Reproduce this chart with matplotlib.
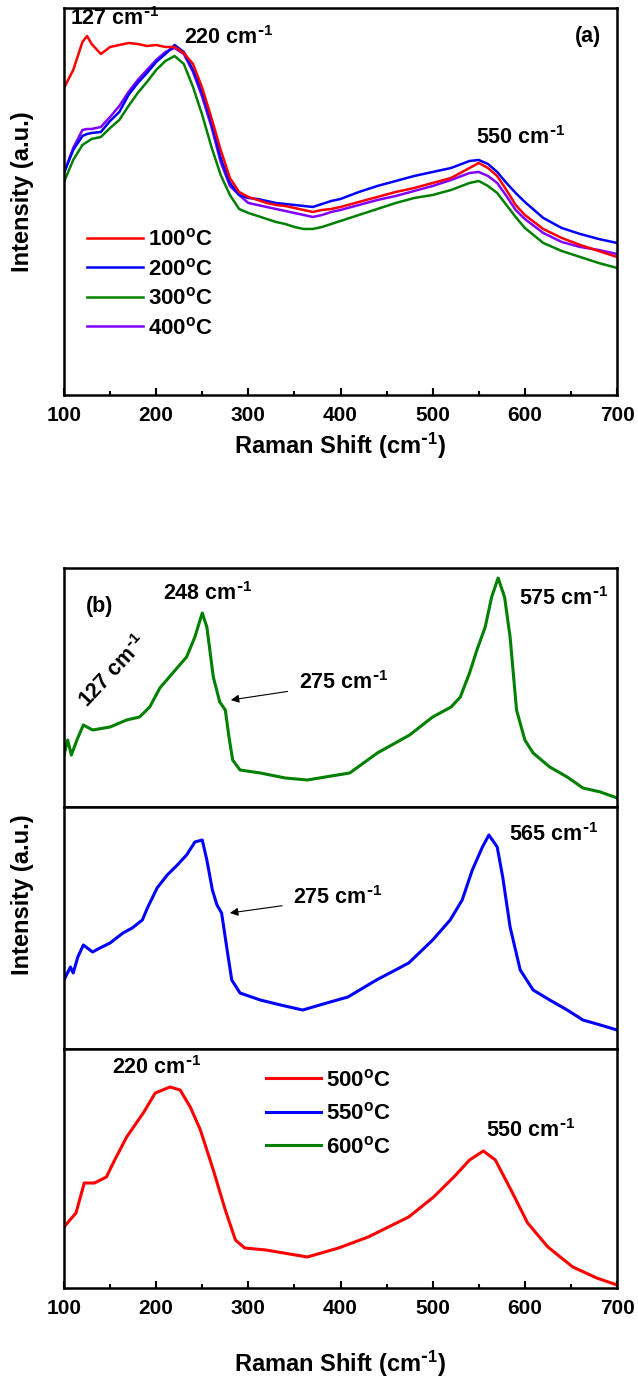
import matplotlib
matplotlib.use("Agg")
import matplotlib.pyplot as plt
from matplotlib.ticker import MultipleLocator

plt.rcParams['font.family'] = ['Liberation Sans', 'DejaVu Sans']
plt.rcParams['font.weight'] = 'bold'
plt.rcParams['axes.labelweight'] = 'bold'
plt.rcParams['mathtext.default'] = 'regular'

# ---- panel (a): 100-400 C ----
shift_a = [100, 110, 120, 125, 130, 140, 150, 160, 170, 180,
           190, 200, 210, 220, 230, 240, 250, 260, 270, 280,
           290, 300, 310, 320, 330, 340, 350, 360, 370, 380,
           390, 400, 420, 440, 460, 480, 500, 520, 540, 550,
           560, 570, 580, 590, 600, 620, 640, 660, 680, 700]
int_100 = [307, 325, 353, 359, 351, 341, 348, 350, 352, 351,
           349, 350, 348, 348, 342, 331, 307, 277, 245, 217,
           203, 198, 195, 192, 190, 189, 187, 185, 183, 185,
           186, 188, 193, 198, 203, 207, 212, 217, 227, 232,
           227, 219, 205, 190, 180, 166, 157, 150, 144, 138]
int_200 = [222, 245, 259, 261, 262, 263, 274, 283, 300, 312,
           322, 333, 341, 350, 343, 325, 302, 272, 237, 212,
           200, 197, 196, 194, 192, 191, 190, 189, 188, 191,
           194, 196, 203, 209, 214, 219, 223, 227, 234, 235,
           231, 223, 212, 202, 193, 177, 167, 161, 156, 152]
int_300 = [213, 235, 250, 253, 256, 258, 267, 275, 289, 302,
           313, 325, 334, 339, 331, 308, 280, 248, 220, 200,
           186, 182, 179, 176, 173, 171, 168, 166, 166, 168,
           171, 174, 180, 186, 192, 197, 200, 205, 212, 214,
           209, 202, 190, 178, 167, 152, 144, 138, 132, 127]
int_400 = [222, 247, 265, 266, 266, 268, 278, 289, 303, 315,
           325, 335, 343, 347, 341, 323, 298, 268, 233, 209,
           200, 192, 190, 188, 186, 184, 182, 180, 178, 180,
           183, 185, 190, 195, 199, 204, 209, 215, 222, 223,
           219, 212, 199, 185, 176, 162, 153, 148, 145, 141]

# ---- panel (b): 500-600 C ----
shift_600 = [100, 104, 108, 114, 121, 131, 150, 168, 182, 193,
             204, 218, 233, 242, 250, 255, 262, 269, 275, 279,
             283, 291, 313, 340, 364, 390, 410, 440, 475, 500,
             520, 530, 540, 548, 557, 564, 571, 578, 584, 591,
             600, 609, 627, 646, 663, 682, 700]
int_600 = [52, 67, 52, 67, 82, 77, 80, 87, 90, 100,
           119, 134, 150, 170, 194, 180, 130, 105, 97, 70,
           47, 37, 34, 29, 27, 31, 34, 54, 72, 90,
           100, 110, 134, 157, 180, 210, 229, 210, 170, 97,
           67, 54, 40, 30, 19, 15, 9]
shift_550 = [100, 107, 110, 115, 121, 131, 139, 150, 164, 174,
             185, 191, 201, 212, 223, 233, 242, 250, 255, 261,
             266, 271, 277, 282, 291, 313, 335, 359, 385, 408,
             439, 474, 500, 519, 532, 543, 554, 561, 570, 576,
             584, 595, 609, 627, 646, 663, 682, 700]
int_550 = [69, 82, 76, 92, 104, 97, 101, 106, 116, 121,
           129, 142, 161, 174, 184, 194, 207, 209, 189, 159,
           144, 136, 99, 69, 56, 49, 44, 39, 46, 52,
           69, 86, 109, 129, 149, 179, 202, 214, 202, 172,
           122, 79, 59, 49, 39, 29, 24, 19]
shift_500 = [100, 113, 122, 133, 146, 155, 168, 186, 199, 215,
             226, 237, 248, 262, 275, 286, 296, 319, 364, 398,
             430, 474, 501, 523, 540, 555, 568, 585, 603, 625,
             652, 678, 700]
int_500 = [61, 75, 105, 105, 111, 128, 151, 175, 195, 201,
           198, 181, 158, 118, 78, 48, 40, 38, 31, 40,
           51, 71, 91, 111, 128, 137, 128, 98, 65, 41,
           21, 10, 3]

RED, BLUE, GREEN, PURPLE = '#ff0000', '#0000ff', '#008000', '#8000ff'
CM = r' cm$^{\text{-}1}$'
xlab = r'Raman Shift (cm$^{\text{-}1}$)'
ANN = 15.5


def style(ax, ticks=True):
    ax.set_xlim(100, 700)
    ax.set_yticks([])
    for s in ax.spines.values():
        s.set_linewidth(1.8)
    ax.xaxis.set_major_locator(MultipleLocator(100))
    ax.xaxis.set_minor_locator(MultipleLocator(50))
    ax.tick_params(axis='x', which='major', direction='in', length=5, width=1.5,
                   labelsize=15, pad=8, top=False)
    ax.tick_params(axis='x', which='minor', direction='in', length=3, width=1.5, top=False)
    if not ticks:
        ax.tick_params(axis='x', which='both', bottom=False, labelbottom=False)


fig = plt.figure(figsize=(6.38, 13.79), dpi=100)

# panel (a)
ax = fig.add_axes([0.1003, 0.7136, 0.8668, 0.2806])
l4, = ax.plot(shift_a, int_400, color=PURPLE, lw=1.8)
l3, = ax.plot(shift_a, int_300, color=GREEN, lw=1.8)
l2, = ax.plot(shift_a, int_200, color=BLUE, lw=1.8)
l1, = ax.plot(shift_a, int_100, color=RED, lw=1.8)
ax.set_ylim(0, 387)
style(ax)
ax.set_xlabel(xlab, fontsize=17, labelpad=4)
ax.legend([l1, l2, l3, l4], [r'100$^{o}$C', r'200$^{o}$C', r'300$^{o}$C', r'400$^{o}$C'],
          loc='center left', bbox_to_anchor=(0.022, 0.287), frameon=False, fontsize=16,
          handlelength=2.5, handletextpad=0.25, labelspacing=0.34, borderpad=0)
ax.text(155, 376, '127' + CM, fontsize=ANN, ha='center', va='center')
ax.text(279, 357, '220' + CM, fontsize=ANN, ha='center', va='center')
ax.text(595, 257, '550' + CM, fontsize=ANN, ha='center', va='center')
ax.text(669, 358, '(a)', fontsize=ANN, ha='center', va='center')
fig.text(0.035, 1 - 192 / 1379, 'Intensity (a.u.)', rotation=90, fontsize=17,
         ha='center', va='center')

# panel (b)
ax1 = fig.add_axes([0.1003, 0.4148, 0.8668, 0.1733])
ax2 = fig.add_axes([0.1003, 0.2393, 0.8668, 0.1755])
ax3 = fig.add_axes([0.1003, 0.0660, 0.8668, 0.1733])

g, = ax1.plot(shift_600, int_600, color=GREEN, lw=2.2)
ax1.set_ylim(0, 239)
style(ax1, ticks=False)
ax1.text(139, 201, '(b)', fontsize=ANN, ha='center', va='center')
ax1.text(256, 213, '248' + CM, fontsize=ANN, ha='center', va='center')
ax1.text(153, 135, '127' + CM, fontsize=ANN, ha='center', va='center', rotation=47)
ax1.text(642, 208, '575' + CM, fontsize=ANN, ha='center', va='center')
ax1.annotate('275' + CM, xy=(281, 107), xytext=(403, 124), fontsize=ANN,
             ha='center', va='center',
             arrowprops=dict(arrowstyle='-|>', color='black', lw=0.8,
                             shrinkA=6, shrinkB=0, mutation_scale=12))

b, = ax2.plot(shift_550, int_550, color=BLUE, lw=2.2)
ax2.set_ylim(0, 242)
style(ax2, ticks=False)
ax2.text(631, 214, '565' + CM, fontsize=ANN, ha='center', va='center')
ax2.annotate('275' + CM, xy=(280, 136), xytext=(397, 151), fontsize=ANN,
             ha='center', va='center',
             arrowprops=dict(arrowstyle='-|>', color='black', lw=0.8,
                             shrinkA=6, shrinkB=0, mutation_scale=12))

r, = ax3.plot(shift_500, int_500, color=RED, lw=2.2)
ax3.set_ylim(0, 239)
style(ax3)
ax3.text(201, 220, '220' + CM, fontsize=ANN, ha='center', va='center')
ax3.text(606, 157, '550' + CM, fontsize=ANN, ha='center', va='center')
ax3.set_xlabel(xlab, fontsize=17, labelpad=22)
ax3.legend([r, b, g], [r'500$^{o}$C', r'550$^{o}$C', r'600$^{o}$C'],
           loc='center left', bbox_to_anchor=(0.345, 0.73), frameon=False, fontsize=16,
           handlelength=2.5, handletextpad=0.2, labelspacing=0.52, borderpad=0)
fig.text(0.035, 1 - 895 / 1379, 'Intensity (a.u.)', rotation=90, fontsize=17,
         ha='center', va='center')

fig.savefig('out.png', dpi=100)
